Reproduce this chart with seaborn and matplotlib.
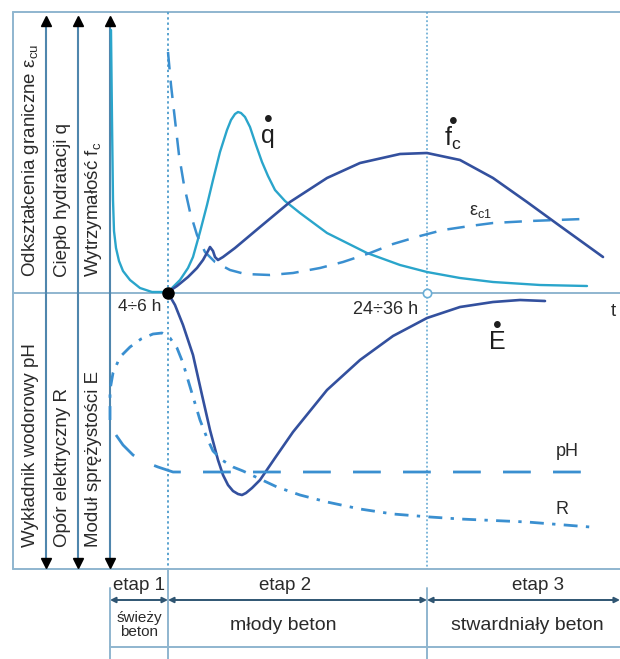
import numpy as np
import pandas as pd
import matplotlib.pyplot as plt
import seaborn as sns

# Werte (x: Zeit relativ zu 4÷6 h, y: über/unter der t-Achse)
q_t = [-57, -56, -55, -54, -52, -49, -45, -38, -28, -16, 0, 12, 20, 25, 32, 39, 45, 52, 59, 63, 67, 70,
       73, 77, 82, 88, 94, 100, 107, 117, 132, 159, 199, 232, 259, 292, 325, 372, 419]
q_val = [263, 173, 93, 62, 45, 32, 22, 13, 5, 1, 1, 13, 25, 36, 61, 88, 113, 141, 163, 173, 179, 181,
         180, 176, 166, 148, 131, 117, 103, 92, 80, 60, 40, 28, 21, 15, 11, 8, 7]

fc_t = [0, 9, 20, 29, 35, 40, 42, 45, 47, 50, 55, 67, 92, 122, 159, 192, 232, 259, 292, 325, 359, 392, 435]
fc_val = [1, 7, 16, 25, 33, 42, 46, 42, 36, 33, 36, 45, 66, 91, 115, 130, 139, 140, 133, 115, 91, 67, 36]

eps_t = [0, 3, 7, 11, 16, 22, 29, 37, 47, 62, 77, 102, 125, 152, 175, 202, 225, 252, 275, 302, 325, 362, 415]
eps_val = [241, 208, 173, 138, 108, 81, 58, 41, 31, 23, 19, 18, 20, 25, 31, 40, 49, 57, 63, 67, 70, 72, 74]

E_t = [0, 7, 15, 25, 34, 42, 50, 55, 60, 65, 70, 74, 78, 84, 92, 107, 125, 159, 192, 225, 259, 292,
       325, 352, 377]
E_val = [0, -12, -32, -62, -102, -137, -167, -182, -192, -198, -201, -202, -200, -195, -187, -165,
         -139, -97, -67, -43, -25, -14, -9, -7, -8]

R_t = [-58, -58, -55, -48, -38, -27, -15, -6, 2, 9, 15, 20, 26, 32, 39, 45, 54, 65, 75, 92, 109, 132,
       159, 192, 225, 262, 292, 359, 422]
R_val = [-127, -97, -80, -64, -54, -46, -41, -40, -45, -55, -70, -87, -107, -127, -145, -158, -167,
         -174, -178, -186, -194, -202, -209, -216, -221, -224, -226, -229, -234]

pH_t = [-52, -45, -35, -23, -10, 5, 60, 200, 330, 422]
pH_val = [-142, -152, -162, -169, -174, -179, -179, -179, -179, -179]

stages = ["etap 1", "etap 2", "etap 3"]
stage_names = ["świeży\nbeton", "młody beton", "stwardniały beton"]
top_labels = [r"Odkształcenia graniczne ε$_\mathregular{cu}$", "Ciepło hydratacji q",
              r"Wytrzymałość f$_\mathregular{c}$"]
bottom_labels = ["Wykładnik wodorowy pH", "Opór elektryczny R", "Moduł sprężystości E"]

sns.set_style("white")
plt.rcParams["font.family"] = ["Liberation Sans", "DejaVu Sans"]

fig = plt.figure(figsize=(6.2, 6.59), dpi=100)
ax = fig.add_axes([0, 0, 1, 1])
ax.set_xlim(-168, 452)
ax.set_ylim(-366, 293)
ax.axis("off")

frame_c = "#8fb6cf"
axis_c = "#4f86ad"
txt_c = "#2a2a2a"

# Rahmen
ax.plot([-155, 452], [281, 281], color=frame_c, lw=1.4)
ax.plot([-155, 452], [-276, -276], color=frame_c, lw=1.4)
ax.plot([-155, -155], [281, -276], color=frame_c, lw=1.4)
ax.plot([-155, 452], [0, 0], color=frame_c, lw=1.4)
ax.plot([0, 0], [281, -276], color="#5aa3cf", lw=1.4, linestyle=(0, (1.2, 1.5)))
ax.plot([259, 259], [281, -276], color="#5aa3cf", lw=1.1, linestyle=(0, (1.2, 1.5)))

# Achsenpfeile
for x in [-122, -90, -58]:
    ax.plot([x, x], [0, 268], color=axis_c, lw=1.5)
    ax.plot([x, x], [0, -266], color=axis_c, lw=1.5)
    ax.plot([x], [272], marker="^", color="black", ms=7)
    ax.plot([x], [-270], marker="v", color="black", ms=7)

for x, lab in zip([-138, -106, -75], top_labels):
    ax.text(x, 16, lab, rotation=90, ha="center", va="bottom", fontsize=13.5, color=txt_c)
for x, lab in zip([-138, -106, -75], bottom_labels):
    ax.text(x, -254, lab, rotation=90, ha="center", va="bottom", fontsize=13.5, color=txt_c)

# Kurven
sns.lineplot(x=q_t, y=q_val, sort=False, estimator=None, ax=ax, color="#2aa5cb", lw=1.7)
sns.lineplot(x=eps_t, y=eps_val, sort=False, estimator=None, ax=ax, color="#3a8fd0", lw=1.8,
             linestyle=(0, (7, 4.5)))
sns.lineplot(x=fc_t, y=fc_val, sort=False, estimator=None, ax=ax, color="#33509e", lw=1.9)
sns.lineplot(x=E_t, y=E_val, sort=False, estimator=None, ax=ax, color="#33509e", lw=1.9)
sns.lineplot(x=pH_t, y=pH_val, sort=False, estimator=None, ax=ax, color="#3a8fd0", lw=2.0,
             linestyle=(0, (10, 8)))
sns.lineplot(x=R_t, y=R_val, sort=False, estimator=None, ax=ax, color="#3a8fd0", lw=2.0,
             linestyle=(0, (5, 3, 1.2, 3)))

ax.plot([0], [0], marker="o", color="black", ms=8)
ax.plot([259], [0], marker="o", mfc="white", mec="#6aaed6", ms=6, mew=1.2)

ax.text(-28, -14, "4÷6 h", ha="center", va="center", fontsize=12.5, color=txt_c)
ax.text(218, -17, "24÷36 h", ha="center", va="center", fontsize=13, color=txt_c)
ax.text(445, -19, "t", ha="center", va="center", fontsize=13.5, color=txt_c)

# Kennzeichnung der Kurven (Punkt über dem Buchstaben = Zeitableitung)
dot_kw = dict(ha="center", va="center", fontsize=18, color="#1e1e1e", linespacing=0.55,
              multialignment="center")
ax.text(100, 165, "•\nq", **dot_kw)
ax.text(285, 162, "•\n" + r"f$_\mathregular{c}$", **dot_kw)
ax.text(329, -41, "•\nE", **dot_kw)
ax.text(312, 81, r"ε$_\mathregular{c1}$", ha="center", va="center", fontsize=13, color=txt_c)
ax.text(399, -159, "pH", ha="center", va="center", fontsize=13, color=txt_c)
ax.text(394, -217, "R", ha="center", va="center", fontsize=13, color=txt_c)

# Tabelle unten
bounds = [-58, 0, 259, 452]
ax.plot([-58, 452], [-354, -354], color=frame_c, lw=1.4)
ax.plot([-58, -58], [-295, -366], color=frame_c, lw=1.4)
ax.plot([0, 0], [-276, -366], color=frame_c, lw=1.4)
ax.plot([259, 259], [-295, -366], color=frame_c, lw=1.4)
for i in range(3):
    ax.annotate("", xy=(bounds[i], -307), xytext=(bounds[i + 1], -307),
                arrowprops=dict(arrowstyle="<|-|>", color="#2f5572", lw=1.4,
                                mutation_scale=8, shrinkA=0, shrinkB=0))
    cx = [-29, 117, 370][i]
    ax.text(cx, -292, stages[i], ha="center", va="center", fontsize=13.5, color=txt_c)
    ax.text([-29, 115, 359][i], -332, stage_names[i], ha="center", va="center",
            fontsize=[11, 14, 14][i], color=txt_c, linespacing=0.95)

fig.savefig("out.png", dpi=100)
